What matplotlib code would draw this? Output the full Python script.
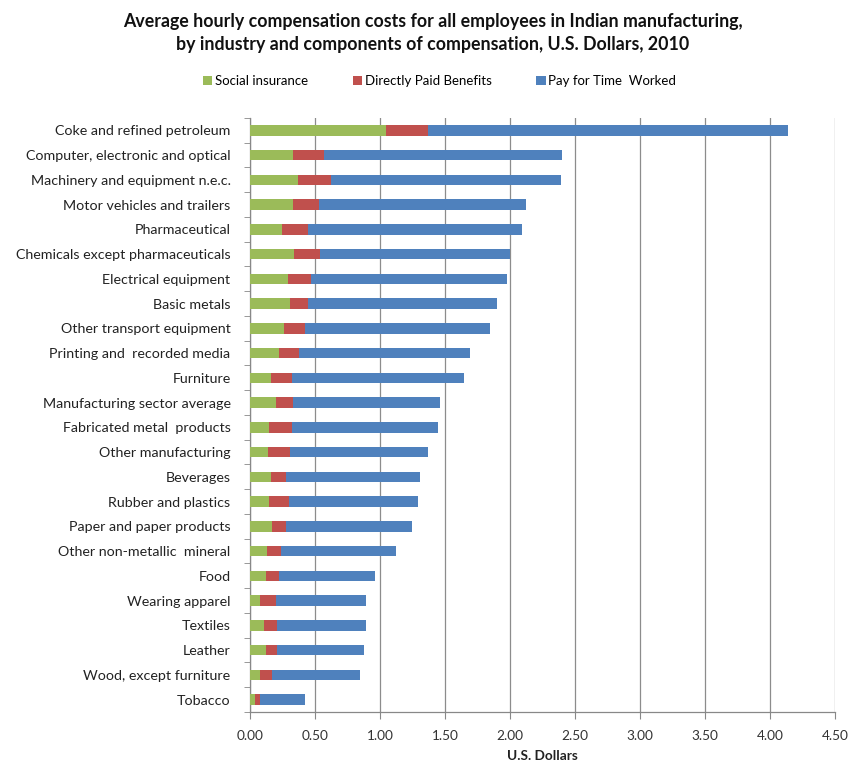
import matplotlib
matplotlib.use("Agg")
import matplotlib.pyplot as plt
from matplotlib.patches import Patch
import numpy as np

categories = [
    "Coke and refined petroleum",
    "Computer, electronic and optical",
    "Machinery and equipment n.e.c.",
    "Motor vehicles and trailers",
    "Pharmaceutical",
    "Chemicals except pharmaceuticals",
    "Electrical equipment",
    "Basic metals",
    "Other transport equipment",
    "Printing and  recorded media",
    "Furniture",
    "Manufacturing sector average",
    "Fabricated metal  products",
    "Other manufacturing",
    "Beverages",
    "Rubber and plastics",
    "Paper and paper products",
    "Other non-metallic  mineral",
    "Food",
    "Wearing apparel",
    "Textiles",
    "Leather",
    "Wood, except furniture",
    "Tobacco",
]
social_insurance = [1.05, 0.33, 0.37, 0.33, 0.25, 0.34, 0.29, 0.31, 0.26, 0.22, 0.16, 0.20,
                    0.15, 0.14, 0.16, 0.15, 0.17, 0.13, 0.12, 0.08, 0.11, 0.12, 0.08, 0.04]
direct_benefits = [0.32, 0.24, 0.25, 0.20, 0.20, 0.20, 0.18, 0.14, 0.16, 0.16, 0.16, 0.13,
                   0.17, 0.17, 0.12, 0.15, 0.11, 0.11, 0.10, 0.12, 0.10, 0.09, 0.09, 0.04]
totals = [4.14, 2.40, 2.39, 2.12, 2.09, 2.00, 1.98, 1.90, 1.85, 1.69, 1.65, 1.46,
          1.45, 1.37, 1.31, 1.29, 1.25, 1.12, 0.96, 0.89, 0.89, 0.88, 0.85, 0.42]
xticks = [0.0, 0.5, 1.0, 1.5, 2.0, 2.5, 3.0, 3.5, 4.0, 4.5]
series_names = ["Social insurance", "Directly Paid Benefits", "Pay for Time  Worked"]
colors = ["#9BBB59", "#C0504D", "#4F81BD"]

si = np.array(social_insurance)
db = np.array(direct_benefits)
pay = np.array(totals) - si - db

plt.rcParams['font.family'] = ['Lato', 'DejaVu Sans']

fig = plt.figure(figsize=(8.52, 7.65), dpi=100)
ax = fig.add_axes([0.2934, 0.0693, 0.6866, 0.7765])

y = np.arange(len(categories))
h = 0.42
ax.barh(y, si, height=h, color=colors[0], zorder=3)
ax.barh(y, db, left=si, height=h, color=colors[1], zorder=3)
ax.barh(y, pay, left=si + db, height=h, color=colors[2], zorder=3)

ax.set_ylim(len(categories) - 0.5, -0.5)
ax.set_xlim(0, 4.5)
ax.set_yticks(y)
ax.set_yticklabels(categories, fontsize=10.3, color="#222222")
ax.set_yticks(np.arange(-0.5, len(categories), 1), minor=True)
ax.tick_params(axis='y', which='major', length=0, pad=14)
ax.tick_params(axis='y', which='minor', length=4, color="#888888", direction='out')

ax.set_xticks(xticks)
ax.set_xticklabels([f"{t:.2f}" for t in xticks], fontsize=9.8, color="#333333")
ax.tick_params(axis='x', length=5, color="#888888", pad=8)
ax.xaxis.grid(True, color="#8c8c8c", linewidth=0.9, zorder=0)
ax.set_axisbelow(True)

for s in ["top", "right"]:
    ax.spines[s].set_visible(False)
for s in ["left", "bottom"]:
    ax.spines[s].set_color("#888888")
    ax.spines[s].set_linewidth(0.9)

ax.set_xlabel("U.S. Dollars", fontsize=9.8, fontweight='bold', labelpad=6, color="#222222")

fig.text(0.508, 0.957, "Average hourly compensation costs for all employees in Indian manufacturing,\n"
         "by industry and components of compensation, U.S. Dollars, 2010",
         ha='center', va='center', fontsize=12.8, fontweight='bold', linespacing=1.45, color="#111111")

handles = [Patch(facecolor=c) for c in colors]
fig.legend(handles, series_names, loc='center', bbox_to_anchor=(0.516, 0.894), ncol=3,
           frameon=False, fontsize=9.5, handlelength=0.7, handleheight=0.7,
           handletextpad=0.2, columnspacing=3.4)

fig.savefig("out.png", dpi=100)
